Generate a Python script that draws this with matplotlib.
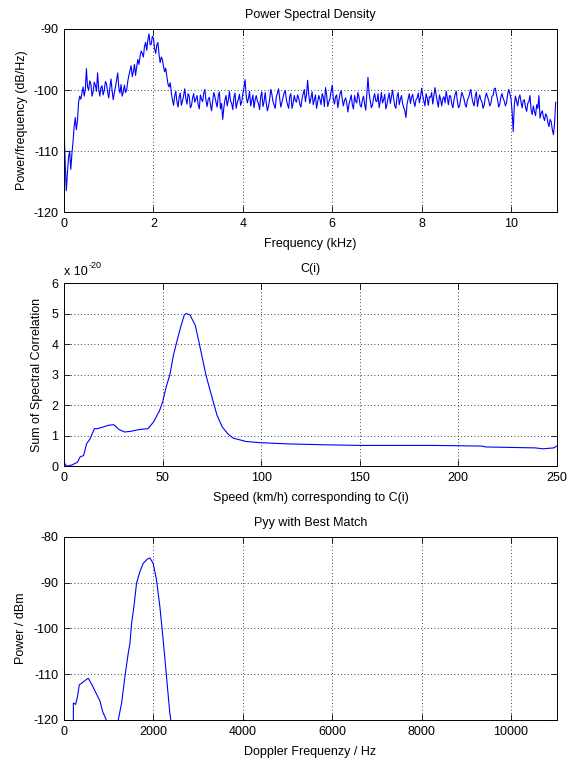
import numpy as np
import matplotlib
matplotlib.use("Agg")
import matplotlib.pyplot as plt

plt.rcParams["font.family"] = ["Liberation Sans", "DejaVu Sans"]
plt.rcParams["font.size"] = 9
plt.rcParams["axes.unicode_minus"] = False

# --- Power spectral density (dB/Hz), one value every 0.025 kHz (10 per row = 0.25 kHz)
psd_db = [
    -106, -112, -116.5, -113.5, -111, -110, -113, -110.5, -108.5, -106,            # 0.00
    -104.5, -106.5, -105, -102, -101, -101.5, -100.5, -99.5, -101, -100,           # 0.25
    -96.5, -99.5, -100, -98.5, -99, -101, -100.3, -98.7, -99.2, -100.2,            # 0.50
    -97.2, -99.8, -101, -99.6, -99.3, -100.8, -100, -98.6, -99, -100.4,            # 0.75
    -101.3, -99.6, -98.2, -100.1, -101.6, -100.4, -99.5, -98.4, -97.2, -99.6,      # 1.00
    -100.5, -99.1, -101, -100.3, -99.2, -100.4, -100, -98.6, -97.6, -96.8,         # 1.25
    -96, -97.8, -97, -95.8, -97.6, -96.2, -95, -95.8, -94.5, -93.6,                # 1.50
    -94, -94.6, -92.8, -92.2, -93.5, -91.8, -90.8, -92.6, -92.5, -91.2,            # 1.75
    -91.5, -93.2, -94, -92.6, -92.2, -94.2, -95.5, -94.6, -95, -96.2,              # 2.00
    -97, -96.4, -97.8, -99, -99.5, -98.8, -100.5, -101.6, -102.5, -101,            # 2.25
    -100.2, -101.9, -102.8, -101.2, -100.5, -102.5, -101.8, -100.9, -99.8, -101.4, # 2.50
    -102.3, -100.6, -101, -102.9, -102.6, -101.3, -100.6, -102, -101.5, -100.9,    # 2.75
    -102.4, -103.1, -100.8, -101.5, -101.9, -100.5, -99.9, -101.7, -102.7, -101.5, # 3.00
    -101.2, -102.4, -103.4, -101.8, -100.4, -101.1, -102, -102.8, -101, -100.3,    # 3.25
    -103.1, -102.2, -104.8, -102.9, -101.6, -100.9, -102.6, -101.7, -100.2, -101.8,  # 3.50
    -102.2, -103.2, -101.2, -100.5, -103, -102.1, -101.5, -100.7, -102.5, -101.9,  # 3.75
    -100.6, -99.6, -98.3, -100.9, -102.1, -101.4, -100.2, -102.6, -101.7, -100.8,  # 4.00
    -102.9, -101.6, -100.9, -101.8, -102.2, -103.2, -101, -100.3, -102.7, -101.9,  # 4.25
    -100.4, -102.2, -103.4, -102.6, -101.5, -99.9, -100.7, -101.9, -102.5, -103,   # 4.50
    -101.1, -100.5, -99.8, -101.4, -102.8, -102, -101.2, -100.4, -100.1, -101.6,   # 4.75
    -102.4, -103, -101, -100.6, -103, -102.2, -100.9, -101.7, -102, -100.8,        # 5.00
    -101.3, -102.3, -102.8, -101.4, -100.6, -99.9, -101.9, -100.7, -98.4, -100.8,  # 5.25
    -102.2, -101.3, -100.3, -102.4, -101.6, -100.8, -103, -102, -100.9, -101.5,    # 5.50
    -102.4, -100.6, -101.1, -102.7, -99.6, -100.8, -102.7, -101.9, -101.4, -100.2, # 5.75
    -99.2, -101.4, -102.3, -101.1, -100.8, -102.9, -101.8, -100.6, -100.1, -101.5, # 6.00
    -102.6, -101.7, -101.3, -102.1, -103.6, -102.3, -101.6, -100.8, -102.4, -103.1,  # 6.25
    -100.9, -101.8, -102.1, -100.4, -101.2, -102.5, -102.8, -101.6, -101, -102.3,  # 6.50
    -103.3, -100.7, -97.9, -100.5, -101.7, -102.9, -102.5, -101.3, -100.6, -101.8, # 6.75
    -101.9, -100.6, -102.9, -101.8, -100.4, -102.1, -101.6, -100.7, -103.1, -102.4,  # 7.00
    -101.3, -100.5, -102.2, -101.1, -100, -101.4, -102.6, -103, -101.1, -100.4,    # 7.25
    -102.4, -101.5, -100.9, -102.2, -102.9, -103.4, -104.5, -102.3, -101.4, -100.6,  # 7.50
    -102.2, -101.2, -100.7, -101.9, -102.7, -101.6, -101.3, -100.5, -102.1, -101.2,  # 7.75
    -99.7, -100.9, -101.8, -102.6, -100.6, -101.3, -102.5, -101.1, -101.2, -100.4, # 8.00
    -102.3, -101, -99.6, -100.8, -101.9, -102.8, -100.8, -101.5, -102.6, -101.4,   # 8.25
    -101.1, -102.1, -100.2, -101.3, -102.4, -100.9, -101, -102.3, -102.9, -101.6,  # 8.50
    -100.7, -100.2, -101.8, -102.9, -102.6, -101.4, -100.4, -100.9, -101.5, -102.4,  # 8.75
    -102.8, -101.6, -101.3, -100.5, -99.9, -101.2, -102.1, -102.6, -101, -100.3,   # 9.00
    -102.7, -101.5, -100.8, -101.6, -101.9, -103, -102.5, -101.2, -100.5, -101.1,  # 9.25
    -101.7, -102.6, -102.2, -101, -100.9, -99.8, -99.7, -100.8, -101.6, -102.8,    # 9.50
    -102.3, -101.1, -100.6, -101.4, -101.8, -102.6, -102.1, -100.7, -99.9, -100.6, # 9.75
    -101.4, -103.5, -106.8, -102.4, -101, -101.8, -102.6, -101.3, -100.8, -102,    # 10.00
    -102.9, -101.7, -101.6, -102.8, -103.5, -102.2, -101.9, -100.9, -103.3, -104,  # 10.25
    -102.6, -103.5, -104.2, -102.4, -103, -100.9, -104.6, -103.8, -103.4, -104.4,  # 10.50
    -105, -103.9, -104.2, -105.3, -106, -104.8, -105.2, -106.5, -107.3, -105.5,    # 10.75
    -102,                                                                          # 11.00
]
psd_freq_khz = np.arange(len(psd_db)) * 0.025

# --- Sum of spectral correlation C(i) (units of 1e-20) vs speed (km/h)
speed_kmh = [0, 1.3, 4, 6.8, 8.1, 9.9, 11.4, 13.2, 15.4, 16.9, 19.7, 22.4, 25.2,
             27.9, 30.7, 33.5, 38.1, 42.6, 45.4, 47.6, 48.2, 50, 51.8, 53.7,
             55.5, 57.4, 59.2, 61, 62, 63.8, 66.5, 68.4, 70.2, 72, 74.8, 77.6,
             80.3, 83.1, 85.8, 92.3, 99.6, 114, 133, 151, 188, 212, 214, 239,
             243, 248.5, 250]
corr_sum = [0.13, 0.0, 0.04, 0.13, 0.3, 0.35, 0.73, 0.9, 1.23, 1.23, 1.28, 1.34,
            1.36, 1.2, 1.12, 1.14, 1.2, 1.23, 1.45, 1.72, 1.78, 2.1, 2.6, 3.0,
            3.64, 4.13, 4.57, 4.96, 5.0, 4.96, 4.63, 4.08, 3.53, 2.98, 2.32,
            1.67, 1.28, 1.06, 0.92, 0.81, 0.77, 0.73, 0.70, 0.68, 0.68, 0.66,
            0.63, 0.6, 0.57, 0.6, 0.66]

# --- Pyy with best match (dBm) vs Doppler frequency (Hz)
doppler_hz = [208, 208, 260, 300, 341, 390, 440, 506, 543, 618, 729, 804, 863,
              938, 1000, 1180, 1213, 1287, 1362, 1436, 1473, 1511, 1563, 1622,
              1696, 1771, 1860, 1920, 1994, 2068, 2143, 2217, 2292, 2366, 2388,
              2420]
pyy_dbm = [-135, -116.3, -116.6, -114.9, -112.3, -112.0, -111.6, -111.1, -110.9,
           -112.2, -114.4, -115.9, -118.2, -119.8, -130, -130, -120, -116.3,
           -110.5, -105.4, -103.3, -98.9, -95.2, -90.1, -87.6, -85.8, -84.9,
           -84.6, -85.8, -89.4, -95.2, -102.5, -110.5, -118.5, -120, -130]

fig = plt.figure(figsize=(5.67, 7.63), dpi=100)
left, width, height = 0.113, 0.869, 0.240
ax1 = fig.add_axes([left, 0.722, width, height])
ax2 = fig.add_axes([left, 0.389, width, height])
ax3 = fig.add_axes([left, 0.0564, width, height])

for ax in (ax1, ax2, ax3):
    ax.grid(True, color="black", linestyle=(0, (1, 3)), linewidth=0.6)
    ax.tick_params(direction="in", top=True, right=True, length=4, width=0.6, pad=4)
    for s in ax.spines.values():
        s.set_linewidth(0.7)

ax1.plot(psd_freq_khz, psd_db, color="blue", linewidth=0.8)
ax1.set_xlim(0, 11.025)
ax1.set_ylim(-120, -90)
ax1.set_xticks([0, 2, 4, 6, 8, 10])
ax1.set_yticks([-120, -110, -100, -90])
ax1.set_title("Power Spectral Density", fontsize=9, pad=8)
ax1.set_xlabel("Frequency (kHz)", labelpad=6)
ax1.set_ylabel("Power/frequency (dB/Hz)", labelpad=4)

ax2.plot(speed_kmh, corr_sum, color="blue", linewidth=0.8)
ax2.set_xlim(0, 250)
ax2.set_ylim(0, 6)
ax2.set_xticks([0, 50, 100, 150, 200, 250])
ax2.set_yticks([0, 1, 2, 3, 4, 5, 6])
ax2.set_title("C(i)", fontsize=9, pad=8)
ax2.set_xlabel("Speed (km/h) corresponding to C(i)", labelpad=6)
ax2.set_ylabel("Sum of Spectral Correlation", labelpad=6)
ax2.text(0.0, 1.025, "x 10", transform=ax2.transAxes, ha="left", va="bottom", fontsize=9)
ax2.annotate("-20", xy=(0.0, 1.025), xycoords="axes fraction", xytext=(17.5, 6),
             textcoords="offset points", ha="left", va="bottom", fontsize=6.5)

ax3.plot(doppler_hz, pyy_dbm, color="blue", linewidth=0.8)
ax3.set_xlim(0, 11025)
ax3.set_ylim(-120, -80)
ax3.set_xticks([0, 2000, 4000, 6000, 8000, 10000])
ax3.set_yticks([-120, -110, -100, -90, -80])
ax3.set_title("Pyy with Best Match", fontsize=9, pad=8)
ax3.set_xlabel("Doppler Frequenzy / Hz", labelpad=6)
ax3.set_ylabel("Power / dBm", labelpad=5)

fig.savefig("out.png", dpi=100)
